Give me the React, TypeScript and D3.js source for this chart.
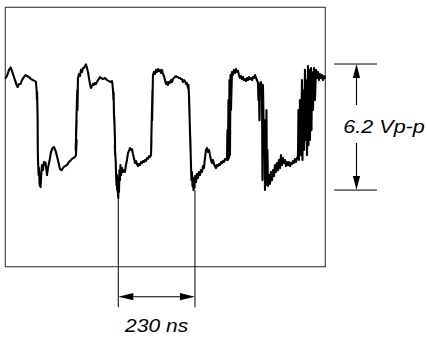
import React from "react";
import * as d3 from "d3";

// Oscilloscope trace: [time (ns), voltage (V)]
const trace: [number, number][] = [
  [1, 5.51], [5, 5.61], [11, 5.91], [16, 6.03], [20, 5.86], [25, 5.61], [29, 5.41], [34, 5.17], [37, 5.07], [41, 5.22],
  [46, 5.22], [50, 5.41], [56, 5.56], [61, 5.66], [65, 5.61], [71, 5.56], [77, 5.46], [83, 5.41], [89, 5.36], [92, 5.31],
  [94, 4.92], [95, 4.43], [95.5, 4.82], [97, 3.44], [97.5, 1.97], [98, 1.48], [100, 0.74], [101, 1.1], [103, 0.25], [106, 0.15], [107, 0.59],
  [110, 1.23], [113, 0.98], [116, 1.38], [121, 1.33], [125, 0.74], [128, 1.08], [133, 1.48], [137, 1.87], [142, 2.07], [146, 2.12],
  [151, 1.92], [155, 1.67], [160, 1.33], [164, 1.03], [169, 0.98], [173, 1.08], [179, 1.18], [185, 1.23], [191, 1.38], [197, 1.48],
  [203, 1.57], [209, 1.62], [212, 1.72], [214, 2.46], [211, 1.97], [214, 3.44], [212, 2.71], [215, 4.43], [216, 4.92], [216.5, 3.94],
  [218, 5.51], [221, 5.71], [224, 5.61], [227, 5.91], [230, 5.81], [233, 6.0], [236, 6.0], [239, 6.1], [242, 6.18], [245, 6.0],
  [248, 5.81], [251, 5.51], [254, 5.22], [257, 5.02], [260, 5.12], [263, 5.22], [266, 5.17], [269, 5.27], [272, 5.22], [275, 5.31],
  [278, 5.41], [281, 5.46], [284, 5.56], [287, 5.51], [293, 5.46], [299, 5.51], [305, 5.41], [311, 5.36], [317, 5.31], [320, 5.36],
  [321.5, 5.22], [323, 4.92], [324.5, 4.43], [325, 4.8], [326, 3.69], [327.5, 3.2], [327, 3.6], [329, 2.46], [329.5, 1.72], [328.5, 2.2], [331, 1.48], [332, 0.98], [333.5, 0.25],
  [335, 0.74], [335.5, 0.0], [336.5, 0.59], [338, -0.25], [339, -0.39], [339.5, 0.25], [341, -0.1], [342.5, 0.98], [344, 0.49], [345.5, 1.23],
  [347, 0.74], [350, 1.08], [353, 0.89], [356, 0.98], [359, 0.89], [362, 1.23], [365, 1.48], [368, 1.82], [371, 1.92], [374, 2.07],
  [377, 1.97], [380, 2.02], [383, 1.77], [386, 1.57], [389, 1.33], [392, 1.43], [395, 1.28], [398, 1.18], [401, 1.28], [404, 1.23],
  [407, 1.38], [410, 1.33], [413, 1.43], [416, 1.38], [419, 1.48], [422, 1.43], [425, 1.57], [428, 1.53], [431, 1.67], [434, 1.62], [437, 1.72], [438.5, 2.46], [437.5, 2.07], [440, 3.94], [441.5, 4.92],
  [440.5, 3.44], [443, 5.66], [446, 5.81], [449, 5.71], [452, 5.91], [455, 5.81], [458, 5.95], [461, 5.86], [464, 5.91], [467, 5.76],
  [470, 5.91], [473, 5.71], [476, 5.61], [479, 5.41], [482, 5.22], [485, 5.31], [488, 5.17], [491, 5.31], [494, 5.27], [497, 5.41],
  [500, 5.31], [503, 5.46], [506, 5.51], [509, 5.56], [512, 5.61], [515, 5.56], [518, 5.56], [521, 5.51], [524, 5.51], [527, 5.46],
  [530, 5.46], [533, 5.31], [536, 5.41], [539, 5.36], [542, 5.22], [545, 5.27], [548, 5.02], [549.5, 5.17], [551, 4.68], [552.5, 3.69],
  [552, 4.2], [554, 2.95], [555.5, 1.97], [555, 2.6], [557, 1.23], [558.5, 0.49], [560, 0.89], [561.5, 0.2], [563, 0.59], [564.5, 0.0], [566, 0.39], [567.5, 0.1],
  [569, 0.69], [572, 0.39], [575, 0.79], [578, 0.59], [581, 0.89], [584, 0.74], [587, 0.98], [590, 0.89], [593, 1.18], [596, 1.08],
  [599, 1.57], [602, 1.97], [605, 2.07], [608, 1.87], [611, 1.97], [614, 1.72], [617, 1.48], [620, 1.33], [623, 1.48], [626, 1.28],
  [629, 1.18], [632, 1.08], [635, 1.23], [638, 1.18], [641, 1.28], [644, 1.23], [647, 1.38], [650, 1.33], [653, 1.43], [656, 1.38], [659, 1.53], [662, 1.48], [665, 1.57], [666.5, 2.95], [668, 1.48],
  [669.5, 4.43], [671, 1.57], [672.5, 5.41], [674, 1.72], [675.5, 5.66], [677, 3.94], [680, 5.81], [683, 5.66], [686, 5.91], [689, 5.76],
  [692, 5.95], [695, 5.81], [698, 5.86], [701, 5.66], [704, 5.51], [707, 5.61], [710, 5.46], [713, 5.56], [716, 5.41], [719, 5.46],
  [722, 5.36], [725, 5.51], [728, 5.41], [731, 5.56], [734, 5.46], [737, 5.51], [740, 5.41], [743, 5.56], [746, 5.51], [749, 5.66],
  [752, 5.51], [755, 5.41], [758, 5.27], [759.5, 4.43], [761, 4.68], [762.5, 3.44], [764, 5.22], [767, 5.31], [770, 4.92], [771.5, 0.49],
  [773, 5.17], [776, 1.97], [777.5, 3.44], [779, 0.0], [780.5, 2.46], [782, 0.49], [783.5, 3.94], [785, 0.25], [786.5, 1.97], [788, 0.2],
  [791, 0.74], [794, 0.3], [797, 0.89], [800, 0.49], [803, 0.98], [806, 0.69], [809, 1.23], [812, 0.89], [815, 1.33], [818, 0.98],
  [821, 1.48], [824, 1.08], [827, 1.72], [830, 1.23], [833, 1.57], [836, 1.33], [839, 1.48], [842, 1.18], [845, 1.38], [848, 1.23],
  [851, 1.38], [854, 1.18], [857, 1.33], [860, 1.28], [863, 1.43], [866, 1.33], [869, 1.53], [872, 1.38], [875, 1.57], [878, 1.67],
  [879.5, 3.94], [881, 1.48], [884, 4.43], [887, 1.72], [890, 5.41], [891.5, 1.48], [893, 4.92], [896, 1.97], [899, 5.91], [900.5, 2.46],
  [902, 5.41], [905, 1.72], [908, 6.1], [909.5, 2.21], [911, 5.91], [914, 2.46], [917, 6.0], [918.5, 2.95], [920, 5.81], [923, 3.94],
  [926, 6.0], [929, 4.43], [932, 5.91], [935, 5.51], [938, 5.81], [941, 5.41], [944, 5.71], [947, 5.51], [950, 5.66], [953, 5.41],
  [956, 5.61], [959, 5.51],
];

// Annotations
const periodMarkers = [339, 569]; // ns
const periodLabel = "230 ns";
const vppLevels = [0, 6.2]; // V
const vppLabel = "6.2 Vp-p";

const timeDomain: [number, number] = [0, 960];
const voltDomain: [number, number] = [-3.77, 8.99];

export default function App() {
  const box = { x0: 5.3, x1: 325.3, y0: 7.3, y1: 266.7 };
  const x = d3.scaleLinear().domain(timeDomain).range([box.x0, box.x1]);
  const y = d3.scaleLinear().domain(voltDomain).range([box.y1, box.y0]);

  const line = d3
    .line<[number, number]>()
    .x((d) => x(d[0]))
    .y((d) => y(d[1]));

  const m1 = x(periodMarkers[0]);
  const m2 = x(periodMarkers[1]);
  const markerTop = y(0);
  const markerBottom = 307.3;
  const arrowY = 296.7;
  const head = 15;
  const hw = 3.6;

  const yHi = y(vppLevels[1]);
  const yLo = y(vppLevels[0]);
  const ax = 356.5;
  const vHead = 14;

  const font = '"Liberation Sans", Arial, Helvetica, sans-serif';

  return (
    <svg
      width={427}
      height={338}
      style={{ position: "absolute", left: 0, top: 0, background: "#fff" }}
    >
      <rect x={0} y={0} width={427} height={338} fill="#fff" />
      <rect
        x={box.x0}
        y={box.y0}
        width={box.x1 - box.x0}
        height={box.y1 - box.y0}
        fill="none"
        stroke="#3a3a3a"
        strokeWidth={1.1}
      />
      {/* period markers */}
      {[m1, m2].map((mx, i) => (
        <line key={i} x1={mx} x2={mx} y1={markerTop} y2={markerBottom} stroke="#000" strokeWidth={1} />
      ))}
      <path
        d={line(trace) || ""}
        fill="none"
        stroke="#000"
        strokeWidth={2.1}
        strokeLinejoin="round"
        strokeLinecap="round"
      />
      {/* horizontal arrow */}
      <line x1={m1 + head} x2={m2 - head} y1={arrowY} y2={arrowY} stroke="#000" strokeWidth={1.1} />
      <polygon points={`${m1},${arrowY} ${m1 + head},${arrowY - hw} ${m1 + head},${arrowY + hw}`} fill="#000" />
      <polygon points={`${m2},${arrowY} ${m2 - head},${arrowY - hw} ${m2 - head},${arrowY + hw}`} fill="#000" />
      <text
        x={(m1 + m2) / 2}
        y={331.5}
        textAnchor="middle"
        fontFamily={font}
        fontStyle="italic"
        fontSize={18}
        textLength={63}
        lengthAdjust="spacingAndGlyphs"
        fill="#000"
      >
        {periodLabel}
      </text>
      {/* Vp-p annotation */}
      <line x1={334} x2={377} y1={yHi} y2={yHi} stroke="#000" strokeWidth={1} />
      <line x1={334} x2={377} y1={yLo} y2={yLo} stroke="#000" strokeWidth={1} />
      <line x1={ax} x2={ax} y1={yHi + vHead} y2={105} stroke="#000" strokeWidth={1.1} />
      <line x1={ax} x2={ax} y1={143} y2={yLo - vHead} stroke="#000" strokeWidth={1.1} />
      <polygon points={`${ax},${yHi} ${ax - hw},${yHi + vHead} ${ax + hw},${yHi + vHead}`} fill="#000" />
      <polygon points={`${ax},${yLo} ${ax - hw},${yLo - vHead} ${ax + hw},${yLo - vHead}`} fill="#000" />
      <text
        x={343.3}
        y={132.5}
        fontFamily={font}
        fontStyle="italic"
        fontSize={18}
        textLength={81.5}
        lengthAdjust="spacingAndGlyphs"
        fill="#000"
      >
        {vppLabel}
      </text>
    </svg>
  );
}
